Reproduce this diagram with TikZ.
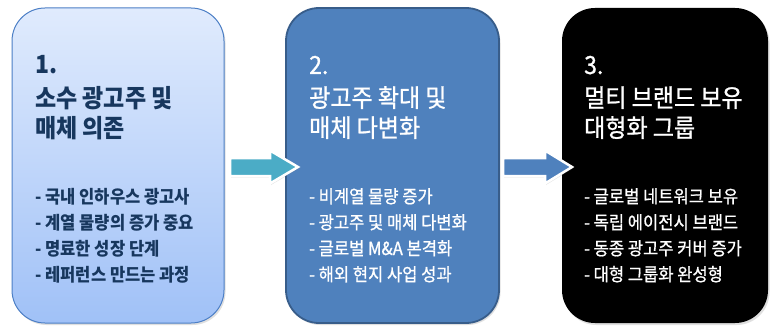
\documentclass[tikz,border=0pt]{standalone}
\usepackage{fontspec}
\setmainfont{Noto Sans CJK KR}[FakeStretch=0.92]
\newfontfamily\semibold{Noto Sans CJK KR}[FakeStretch=0.92, FakeBold=0.9]
\usetikzlibrary{shadows}
\definecolor{boxtop}{HTML}{E0EBFD}
\definecolor{boxbot}{HTML}{A0C1F7}
\definecolor{boxoneline}{HTML}{4C7FC6}
\definecolor{navy}{HTML}{17375E}
\definecolor{midblue}{HTML}{4F81BD}
\definecolor{darkblue}{HTML}{385D8A}
\definecolor{teal}{HTML}{4BACC6}
\newcommand{\titlesize}{\fontsize{25}{29}\selectfont}
\newcommand{\itemsize}{\fontsize{18}{21}\selectfont}
\begin{document}
\begin{tikzpicture}[x=1pt,y=-1pt,
  stagebox/.style={rectangle, rounded corners=33pt, inner sep=0pt,
    minimum height=315pt, drop shadow={shadow xshift=1.5pt, shadow yshift=-2pt, opacity=0.25}},
  titletext/.style={anchor=base west, inner sep=0pt, font=\titlesize},
  itemtext/.style={anchor=base west, inner sep=0pt, font=\itemsize},
  blockarrow/.style={draw=white, line width=2.5pt, line join=miter,
    drop shadow={shadow xshift=1pt, shadow yshift=-1.5pt, opacity=0.2}}]
\useasboundingbox (0,0) rectangle (770,326);
\fill[white] (0,0) rectangle (770,326);

% stage boxes
\node[stagebox, minimum width=212pt, draw=boxoneline, line width=1pt,
      top color=boxtop, bottom color=boxbot] (box1) at (118,165.5) {};
\node[stagebox, minimum width=213pt, draw=darkblue, line width=1.8pt,
      fill=midblue] (box2) at (392.5,165.5) {};
\node[stagebox, minimum width=206pt, fill=black] (box3) at (665,165.5) {};

% arrows between boxes
\coordinate (arrA) at (230,167);
\coordinate (arrB) at (503,167);
\begin{scope}[shift={(arrA)}]
  \path[blockarrow, fill=teal] (0,-9) -- (40,-9) -- (40,-16.5) -- (68,0)
     -- (40,16.5) -- (40,9) -- (0,9) -- cycle;
\end{scope}
\begin{scope}[shift={(arrB)}]
  \path[blockarrow, fill=midblue] (0,-9) -- (42,-9) -- (42,-16.5) -- (69,0)
     -- (42,16.5) -- (42,9) -- (0,9) -- cycle;
\end{scope}

% box 1 texts
\begin{scope}[every node/.append style={text=navy}]
\node[titletext] (t1a) at (35,74) {\bfseries 1.};
\node[titletext] (t1b) at (35,107) {\bfseries 소수 광고주 및};
\node[titletext] (t1c) at (35,137) {\bfseries 매체 의존};
\node[itemtext] (i1a) at (35,203) {\bfseries - 국내 인하우스 광고사};
\node[itemtext] (i1b) at (35,229) {\bfseries - 계열 물량의 증가 중요};
\node[itemtext] (i1c) at (35,255) {\bfseries - 명료한 성장 단계};
\node[itemtext] (i1d) at (35,281) {\bfseries - 레퍼런스 만드는 과정};
\end{scope}

% box 2 texts
\begin{scope}[every node/.append style={text=white}]
\node[titletext] (t2a) at (309,74) {\semibold 2.};
\node[titletext] (t2b) at (309,107) {\semibold 광고주 확대 및};
\node[titletext] (t2c) at (309,137) {\semibold 매체 다변화};
\node[itemtext] (i2a) at (309,203) {\semibold - 비계열 물량 증가};
\node[itemtext] (i2b) at (309,229) {\semibold - 광고주 및 매체 다변화};
\node[itemtext] (i2c) at (309,255) {\semibold - 글로벌 M\&A 본격화};
\node[itemtext] (i2d) at (309,281) {\semibold - 해외 현지 사업 성과};
\end{scope}

% box 3 texts
\begin{scope}[every node/.append style={text=white}]
\node[titletext] (t3a) at (584,74) {\semibold 3.};
\node[titletext] (t3b) at (584,107) {\semibold 멀티 브랜드 보유};
\node[titletext] (t3c) at (584,137) {\semibold 대형화 그룹};
\node[itemtext] (i3a) at (584,203) {\semibold - 글로벌 네트워크 보유};
\node[itemtext] (i3b) at (584,229) {\semibold - 독립 에이전시 브랜드};
\node[itemtext] (i3c) at (584,255) {\semibold - 동종 광고주 커버 증가};
\node[itemtext] (i3d) at (584,281) {\semibold - 대형 그룹화 완성형};
\end{scope}
\end{tikzpicture}
\end{document}
